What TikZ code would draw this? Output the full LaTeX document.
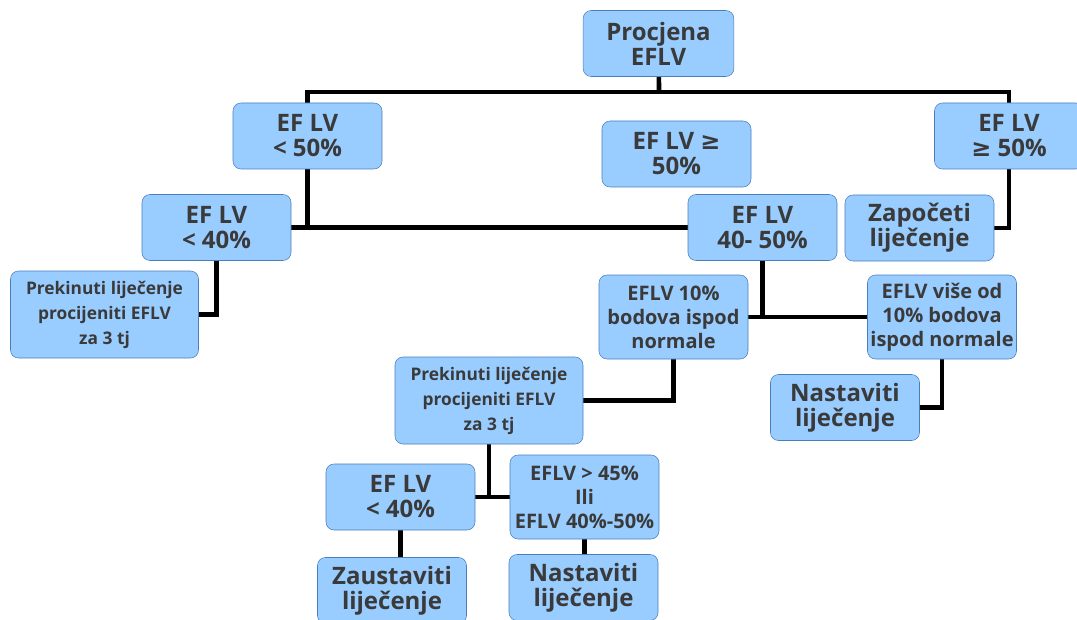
\documentclass[tikz,border=0pt]{standalone}
\usepackage{fontspec}
\usetikzlibrary{backgrounds}
\setmainfont{Open Sans}
\newfontfamily\symfont{DejaVu Sans}
\newcommand{\gesym}{{\symfont ≥}}
\definecolor{boxfill}{RGB}{153,204,255}
\definecolor{boxline}{RGB}{74,126,187}
\definecolor{boxtext}{RGB}{58,58,58}
\begin{document}
\begin{tikzpicture}[x=0.75pt,y=-0.75pt,
  box/.style={draw=boxline,fill=boxfill,rounded corners=6pt,align=center,
    text=boxtext,inner sep=0pt,minimum width=111.75pt,minimum height=49.5pt,
    font=\fontsize{18}{18.75}\selectfont\bfseries},
  wordbox/.style={box,minimum height=63pt,font=\fontsize{15}{18}\selectfont\bfseries},
  notebox/.style={box,minimum width=141pt,minimum height=65.25pt,
    font=\fontsize{13}{18.75}\selectfont\bfseries},
  conn/.style={line width=3.5pt}]
  \useasboundingbox (0,0) rectangle (1077,620);
  % first level
  \node[box,minimum width=113pt] (proc) at (658.5,43.5) {Procjena\\EFLV};
  \node[box] (lt50) at (307.5,136) {EF LV\\< 50\%};
  \node[box] (mid) at (676.5,154) {EF LV \gesym\\50\%};
  \node[box] (ge50) at (1009,136) {EF LV\\\gesym{} 50\%};
  % second level
  \node[box] (lt40) at (216.5,227.5) {EF LV\\< 40\%};
  \node[box] (r4050) at (762.5,227.5) {EF LV\\40- 50\%};
  \node[box] (zap) at (919.5,228) {Započeti\\liječenje};
  \node[notebox] (prek1) at (104.5,314.5) {Prekinuti liječenje\\procijeniti EFLV\\za 3 tj};
  \node[wordbox] (e10) at (673.5,317) {EFLV 10\%\\bodova ispod\\normale};
  \node[wordbox] (vise) at (942,317) {EFLV više od\\10\% bodova\\ispod normale};
  \node[box] (nast1) at (845,407.5) {Nastaviti\\liječenje};
  % after 3 weeks
  \node[notebox] (prek2) at (489,400.5) {Prekinuti liječenje\\procijeniti EFLV\\za 3 tj};
  \node[box] (lt40b) at (400.5,497) {EF LV\\< 40\%};
  \node[wordbox] (e45) at (584.5,497) {EFLV > 45\%\\Ili\\EFLV 40\%-50\%};
  \node[box] (zaus) at (392,590.5) {Zaustaviti\\liječenje};
  \node[box] (nast2) at (583.5,587.5) {Nastaviti\\liječenje};
  % connectors, behind the boxes
  \begin{scope}[on background layer]
    \coordinate (bar) at (659,92);
    \draw[conn] (proc) -- (bar);
    \draw[conn] (lt50.north) |- (bar) -| (ge50.north);
    \draw[conn] (lt40) -- (r4050);
    \draw[conn] (lt50) -- (lt50 |- lt40);
    \draw[conn] (ge50.south) |- (zap.east);
    \draw[conn] (lt40.south) |- (prek1.east);
    \draw[conn] (e10) -- (vise);
    \draw[conn] (r4050) -- (r4050 |- e10);
    \draw[conn] (e10.south) |- (prek2.east);
    \draw[conn] (vise.south) |- (nast1.east);
    \draw[conn] (lt40b) -- (e45);
    \draw[conn] (prek2) -- (prek2 |- lt40b);
    \draw[conn] (lt40b.south) -- (lt40b.south |- zaus.north);
    \draw[conn] (e45.south) -- (e45.south |- nast2.north);
  \end{scope}
\end{tikzpicture}
\end{document}
